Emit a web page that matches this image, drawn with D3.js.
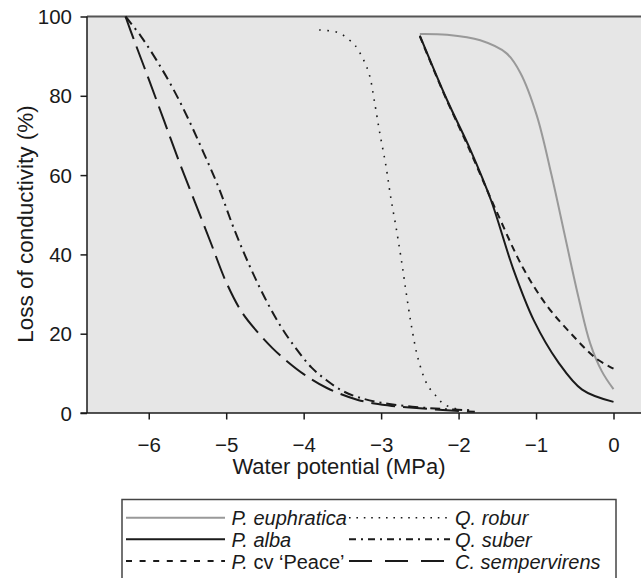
<!DOCTYPE html>
<html>
<head>
<meta charset="utf-8">
<script src="https://cdn.jsdelivr.net/npm/d3@7"></script>
<style>
  html, body { margin: 0; padding: 0; background: #fff; }
  svg { display: block; font-family: "Liberation Sans", Arial, Helvetica, sans-serif; }
</style>
</head>
<body>
<svg id="chart" width="641" height="578"></svg>
<script>
// ---- data: [water potential (MPa), loss of conductivity (%)] ----
const euphratica = [[-2.5,95.6],[-2.15,95.4],[-1.72,94.0],[-1.38,90.7],[-1.2,85.7],[-0.99,75.0],[-0.80,60.0],[-0.62,44.0],[-0.45,29.0],[-0.30,17.5],[-0.15,10.5],[0,6.0]];
const alba = [[-2.5,95.2],[-2.15,79.0],[-1.85,66.5],[-1.58,53.6],[-1.294,36.3],[-1.027,23.3],[-0.716,12.9],[-0.405,5.9],[0,2.8]];
const peace = [[-2.5,95.0],[-2.2,81.0],[-1.85,66.0],[-1.516,51.1],[-1.16,36.3],[-0.849,26.8],[-0.538,19.8],[-0.227,13.8],[0,11.2]];
const robur = [[-3.8,96.6],[-3.6,96.2],[-3.5,95.4],[-3.41,94.1],[-3.335,92.7],[-3.23,89.2],[-3.15,85.2],[-3.09,79.0],[-3.02,70.9],[-2.94,62.6],[-2.875,54.3],[-2.80,46.0],[-2.73,37.5],[-2.67,29.5],[-2.60,21.0],[-2.52,13.5],[-2.40,7.0],[-2.277,4.0],[-2.19,2.2],[-2.07,1.3],[-2.0,0.9]];
const suber = [[-6.3,100],[-6.1,95.0],[-5.9,89.0],[-5.7,82.3],[-5.5,74.6],[-5.3,66.0],[-5.1,57.0],[-4.9,46.5],[-4.7,37.2],[-4.5,29.0],[-4.3,22.0],[-4.1,16.3],[-3.9,11.5],[-3.7,8.2],[-3.5,5.6],[-3.3,4.0],[-3.0,2.6],[-2.6,1.6],[-2.2,1.0],[-1.85,0.7]];
const sempervirens = [[-6.3,100],[-6.2,94.6],[-6.0,84.2],[-5.8,73.6],[-5.6,63.0],[-5.4,53.0],[-5.2,43.0],[-5.0,33.0],[-4.8,25.5],[-4.6,20.5],[-4.4,16.3],[-4.2,12.8],[-4.0,9.8],[-3.7,6.3],[-3.3,3.3],[-2.9,1.9],[-2.5,1.2],[-2.1,0.6],[-1.79,0.3]];

const xTicks = [-6, -5, -4, -3, -2, -1, 0];
const yTicks = [0, 20, 40, 60, 80, 100];
const xTitle = "Water potential (MPa)";
const yTitle = "Loss of conductivity (%)";

const series = [
  { data: euphratica, color: "#999999", width: 2, dash: null, legendDash: null, label: [["P.", true], [" euphratica", true]] },
  { data: alba, color: "#1a1a1a", width: 2, dash: null, legendDash: null, label: [["P.", true], [" alba", true]] },
  { data: peace, color: "#1a1a1a", width: 2, dash: "7,5", legendDash: "6,7.6", label: [["P.", true], [" cv \u2018Peace\u2019", false]] },
  { data: robur, color: "#1a1a1a", width: 1.6, dash: "1.6,6.6", legendDash: "1.6,5.8", label: [["Q. robur", true]] },
  { data: suber, color: "#1a1a1a", width: 2, dash: "10,5,2,5", legendDash: "7,5,2,5", label: [["Q. suber", true]] },
  { data: sempervirens, color: "#1a1a1a", width: 2, dash: "24,8", legendDash: "23,13", label: [["C. sempervirens", true]] }
];

// ---- layout ----
const svg = d3.select("#chart");
const plot = { left: 87, right: 641, top: 16.5, bottom: 413 };
const x = d3.scaleLinear().domain([-6.797, 0.355]).range([plot.left, plot.right]);
const y = d3.scaleLinear().domain([0, 100]).range([plot.bottom, plot.top]);

svg.append("rect")
  .attr("x", plot.left).attr("y", plot.top)
  .attr("width", plot.right - plot.left).attr("height", plot.bottom - plot.top)
  .attr("fill", "#e6e6e6");

// top border
svg.append("line")
  .attr("x1", plot.left).attr("x2", plot.right)
  .attr("y1", plot.top).attr("y2", plot.top)
  .attr("stroke", "#555").attr("stroke-width", 2);

// axes
const xAxis = d3.axisBottom(x).tickValues(xTicks).tickSize(6.5).tickSizeOuter(0).tickFormat(d3.format("d"));
const gx = svg.append("g").attr("transform", `translate(0,${plot.bottom})`).call(xAxis);
gx.select(".domain").remove();
gx.selectAll(".tick line").attr("stroke", "#1a1a1a").attr("stroke-width", 1.5);
gx.selectAll(".tick text").attr("y", 0).attr("dy", 0).attr("transform", "translate(0,38.5)")
  .attr("font-size", 20.5).attr("fill", "#1a1a1a").attr("font-family", "Liberation Sans, Arial, sans-serif");

const yAxis = d3.axisLeft(y).tickValues(yTicks).tickSize(6.5).tickSizeOuter(0).tickFormat(d3.format("d"));
const gy = svg.append("g").attr("transform", `translate(${plot.left},0)`).call(yAxis);
gy.select(".domain").remove();
gy.selectAll(".tick line").attr("stroke", "#1a1a1a").attr("stroke-width", 1.5);
gy.selectAll(".tick text").attr("x", -15).attr("dy", "0.35em")
  .attr("font-size", 20.5).attr("fill", "#1a1a1a").attr("font-family", "Liberation Sans, Arial, sans-serif");

// axis lines
svg.append("line").attr("x1", plot.left).attr("x2", plot.left).attr("y1", plot.top).attr("y2", plot.bottom)
  .attr("stroke", "#1a1a1a").attr("stroke-width", 1.5);
svg.append("line").attr("x1", plot.left - 6.5).attr("x2", plot.right).attr("y1", plot.bottom).attr("y2", plot.bottom)
  .attr("stroke", "#1a1a1a").attr("stroke-width", 1.5);

// titles
svg.append("text").attr("x", 339).attr("y", 474).attr("text-anchor", "middle")
  .attr("font-size", 22).attr("fill", "#1a1a1a").text(xTitle);
svg.append("text").attr("transform", "translate(33,224) rotate(-90)").attr("text-anchor", "middle")
  .attr("font-size", 22.5).attr("fill", "#1a1a1a").text(yTitle);

// curves
const line = d3.line().x(d => x(d[0])).y(d => y(d[1])).curve(d3.curveCatmullRom.alpha(0.5));
const gc = svg.append("g");
series.forEach(s => {
  gc.append("path").attr("d", line(s.data))
    .attr("fill", "none").attr("stroke", s.color).attr("stroke-width", s.width)
    .attr("stroke-dasharray", s.dash).attr("stroke-linejoin", "round");
});

// legend
const lg = svg.append("g");
lg.append("rect").attr("x", 122).attr("y", 499.5).attr("width", 494).attr("height", 120)
  .attr("fill", "#fff").attr("stroke", "#444").attr("stroke-width", 1.5);
const rowsY = [517.7, 539.3, 561];
const cols = [{ x1: 126, x2: 225, tx: 231.5 }, { x1: 349, x2: 450, tx: 455 }];
series.forEach((s, i) => {
  const c = cols[Math.floor(i / 3)];
  const ry = rowsY[i % 3];
  lg.append("line").attr("x1", c.x1).attr("x2", c.x2).attr("y1", ry).attr("y2", ry)
    .attr("stroke", s.color).attr("stroke-width", s.width).attr("stroke-dasharray", s.legendDash);
  const t = lg.append("text").attr("x", c.tx).attr("y", ry + 7.5).attr("font-size", 20).attr("fill", "#1a1a1a");
  s.label.forEach(([txt, it]) => {
    t.append("tspan").attr("font-style", it ? "italic" : "normal").text(txt);
  });
});
</script>
</body>
</html>
